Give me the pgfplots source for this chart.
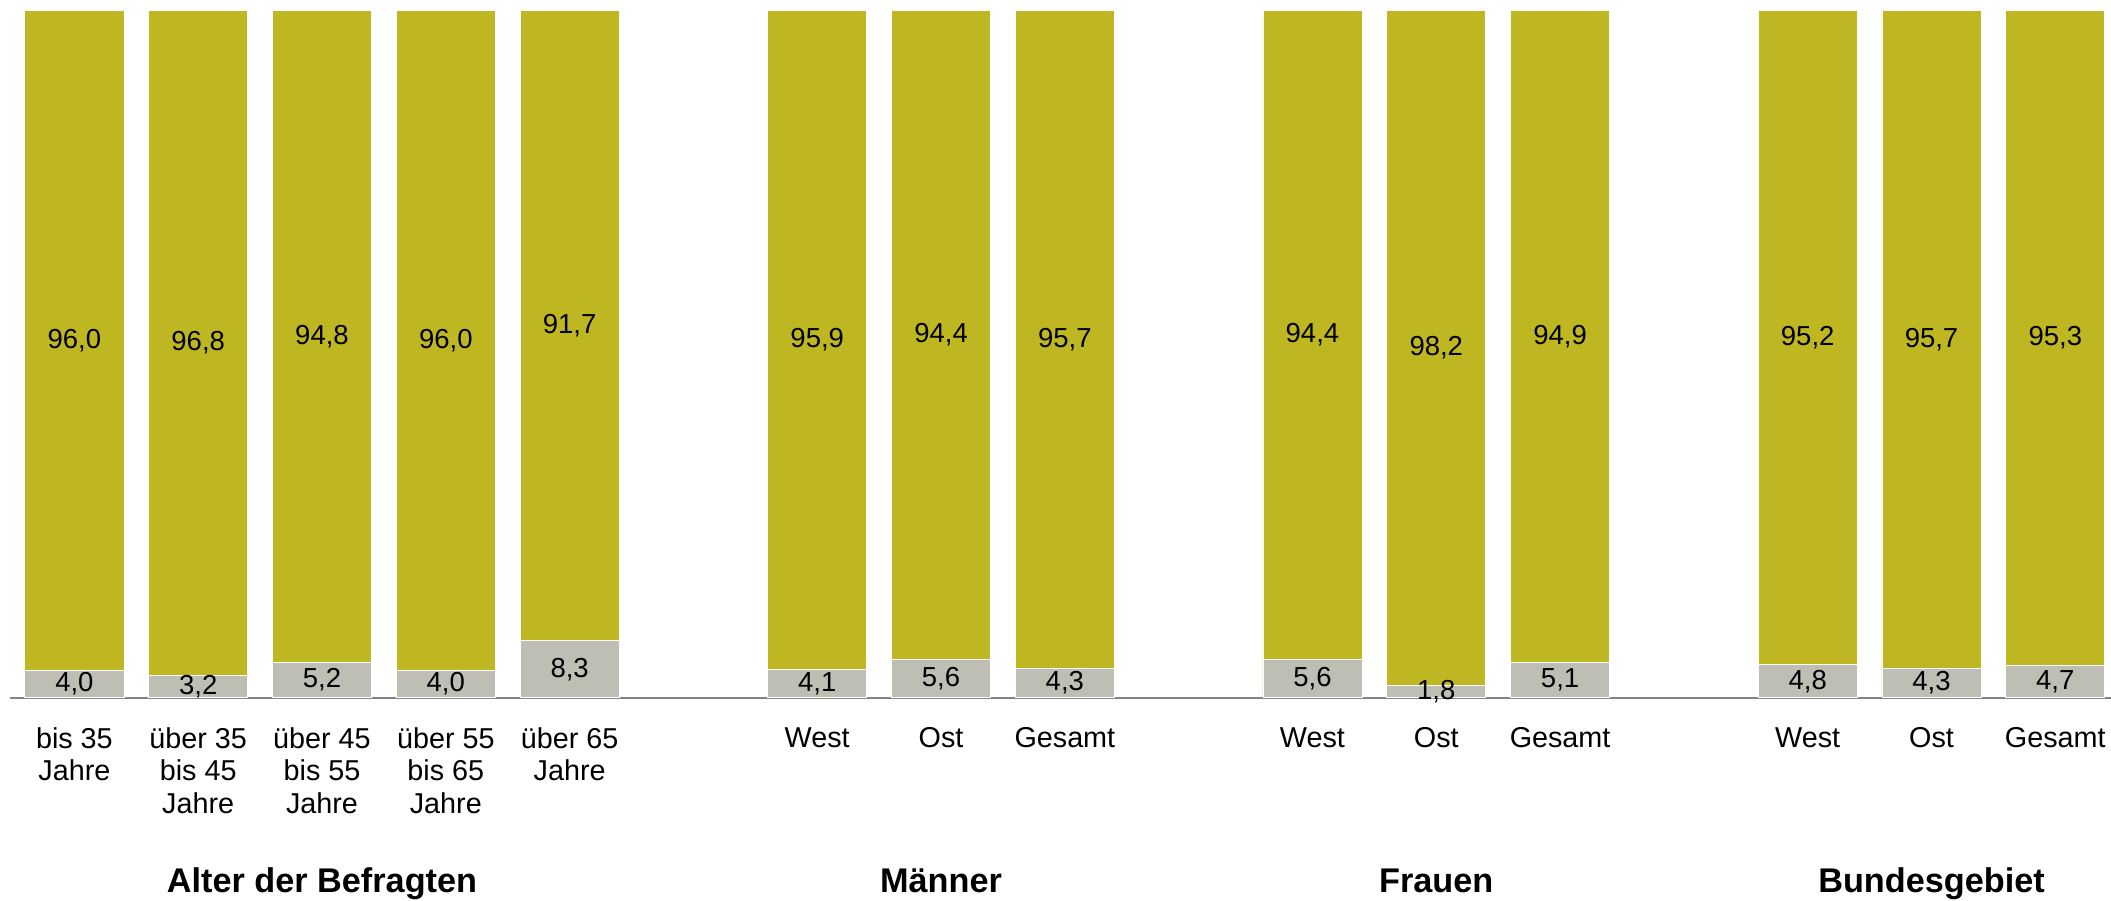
\documentclass[border=0pt]{standalone}
\usepackage{fontspec}
\setmainfont{Liberation Sans}
\usepackage{pgfplots}
\usepackage{pgfplotstable}
\pgfplotsset{compat=1.18}
\usetikzlibrary{calc}
\definecolor{olivebar}{HTML}{BEB722}
\definecolor{graybar}{HTML}{BEBEB4}
\definecolor{axisgray}{HTML}{858585}

\pgfplotstableread{
x g o
0 4.0 96.0
1 3.2 96.8
2 5.2 94.8
3 4.0 96.0
4 8.3 91.7
6 4.1 95.9
7 5.6 94.4
8 4.3 95.7
10 5.6 94.4
11 1.8 98.2
12 5.1 94.9
14 4.8 95.2
15 4.3 95.7
16 4.7 95.3
}\datatable

\begin{document}
\begin{tikzpicture}
\begin{axis}[
  name=ax,
  scale only axis,
  width=840.4pt, height=274.9pt,
  xmin=-0.52, xmax=16.45, ymin=0, ymax=100,
  axis x line*=bottom,
  axis y line=none,
  x axis line style={-, draw=axisgray, line width=0.9pt},
  xtick={0,1,2,3,4,6,7,8,10,11,12,14,15,16},
  xticklabels={{bis 35\\Jahre},{über 35\\bis 45\\Jahre},{über 45\\bis 55\\Jahre},{über 55\\bis 65\\Jahre},{über 65\\Jahre},
    West,Ost,Gesamt,West,Ost,Gesamt,West,Ost,Gesamt},
  xticklabel style={font=\fontsize{11.5}{13}\selectfont, align=center, anchor=north, inner sep=0pt, yshift=-11.7pt},
  major tick length=0pt,
  clip=false,
  /pgf/number format/.cd, use comma, fixed, fixed zerofill, precision=1, assume math mode=true,
]
\addplot[ybar, bar width=0.8, bar shift=0pt, fill=olivebar, draw=white, line width=0.3pt]
  table[x=x, y expr=\thisrow{g}+\thisrow{o}] {\datatable};
\addplot[ybar, bar width=0.8, bar shift=0pt, fill=graybar, draw=white, line width=0.3pt]
  table[x=x, y=g] {\datatable};
\addplot[draw=none, mark=none, point meta=explicit, nodes near coords,
  every node near coord/.append style={anchor=center, font=\fontsize{11}{13}\selectfont, text=black, inner sep=0pt}]
  table[x=x, y expr=\thisrow{g}/2, meta=g] {\datatable};
\addplot[draw=none, mark=none, point meta=explicit, nodes near coords,
  every node near coord/.append style={anchor=center, font=\fontsize{11}{13}\selectfont, text=black, inner sep=0pt}]
  table[x=x, y expr=\thisrow{g}+\thisrow{o}/2, meta=o] {\datatable};
\node[font=\bfseries\fontsize{13.7}{16}\selectfont, anchor=base] at (axis cs:2,0) [yshift=-78pt] {Alter der Befragten};
\node[font=\bfseries\fontsize{13.7}{16}\selectfont, anchor=base] at (axis cs:7,0) [yshift=-78pt] {Männer};
\node[font=\bfseries\fontsize{13.7}{16}\selectfont, anchor=base] at (axis cs:11,0) [yshift=-78pt] {Frauen};
\node[font=\bfseries\fontsize{13.7}{16}\selectfont, anchor=base] at (axis cs:15,0) [yshift=-78pt] {Bundesgebiet};
\end{axis}
\pgfresetboundingbox
\path ($(ax.south west)+(-4pt,-81.3pt)$) rectangle ($(ax.north east)+(0pt,4.2pt)$);
\end{tikzpicture}
\end{document}
